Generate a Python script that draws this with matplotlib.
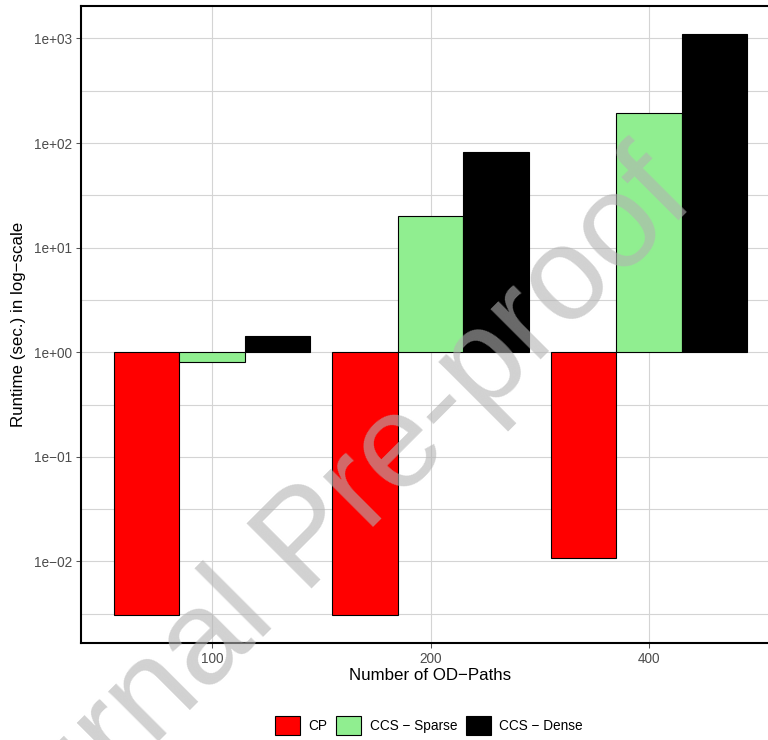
"""Runtime of CP vs CCS models, log-scale bars around 1 second."""

import numpy as np
from matplotlib import pyplot as plt
from matplotlib.patches import Patch

# values
paths = ['100', '200', '400']
cp = [0.0031, 0.0031, 0.0107]
ccs_sparse = [0.81, 20.0, 192.0]
ccs_dense = [1.44, 82.0, 1100.0]
series_names = ['CP', 'CCS \u2212 Sparse', 'CCS \u2212 Dense']
series_colors = ['#ff0000', '#90ee90', '#000000']
y_ticks = [1e-2, 1e-1, 1e0, 1e1, 1e2, 1e3]
y_tick_labels = ['1e\u221202', '1e\u221201', '1e+00', '1e+01', '1e+02', '1e+03']

plt.rcParams['font.family'] = ['Liberation Sans', 'DejaVu Sans']

W, H = 768, 740
fig = plt.figure(figsize=(W / 100, H / 100), dpi=100)
# panel runs past the right edge of the picture, as in the reference
ax = fig.add_axes([81 / W, 1 - 643 / H, 699 / W, 637 / H])

x = np.arange(len(paths))
width = 0.3
for i, (vals, name, col) in enumerate(zip([cp, ccs_sparse, ccs_dense],
                                          series_names, series_colors)):
    vals = np.asarray(vals)
    ax.bar(x + (i - 1) * width, vals - 1, width=width, bottom=1, color=col,
           edgecolor='black', linewidth=0.8, label=name, zorder=3)

ax.set_yscale('log')
ax.set_ylim(10 ** -2.78, 10 ** 3.31)
ax.set_xlim(-0.6, 2.6)

ax.set_xticks(x)
ax.set_xticklabels(paths)
ax.set_yticks(y_ticks)
ax.set_yticklabels(y_tick_labels)
ax.set_yticks(10 ** (np.arange(-3, 3) + 0.5), minor=True)
ax.yaxis.set_minor_formatter(plt.NullFormatter())

ax.grid(which='both', color='#d4d4d4', linewidth=0.8)
ax.set_axisbelow(True)
ax.tick_params(which='major', length=3.3, width=0.75, color='#555555',
               labelcolor='#4d4d4d', labelsize=9.8, pad=3)
ax.tick_params(which='minor', length=0)
for sp in ax.spines.values():
    sp.set_color('black')
    sp.set_linewidth(1.5)

ax.set_xlabel('Number of OD\u2212Paths', fontsize=12.2)
ax.xaxis.set_label_coords(0.5, -33 / 637)
ax.xaxis.label.set_va('center')
ax.set_ylabel('Runtime (sec.) in log\u2212scale', fontsize=12.2)
ax.yaxis.set_label_coords(-62 / 699, 0.5)
ax.yaxis.label.set_va('center')

handles = [Patch(facecolor=c, edgecolor='black', linewidth=0.8)
           for c in series_colors]
fig.legend(handles, series_names, loc='center',
           bbox_to_anchor=(429 / W, 1 - 725.5 / H), ncol=3, frameon=False,
           fontsize=9.8, handlelength=1.85, handleheight=1.85,
           handletextpad=0.6, columnspacing=0.66, borderpad=0,
           borderaxespad=0)

# watermark, semi-transparent over the whole figure
fig.text(333 / W, 1 - 567 / H, 'Journal Pre-proof', fontsize=96,
         rotation=45, rotation_mode='anchor', ha='center', va='baseline',
         color='#b3b3b3', alpha=0.6, zorder=10)

fig.savefig('out.png', dpi=100)
